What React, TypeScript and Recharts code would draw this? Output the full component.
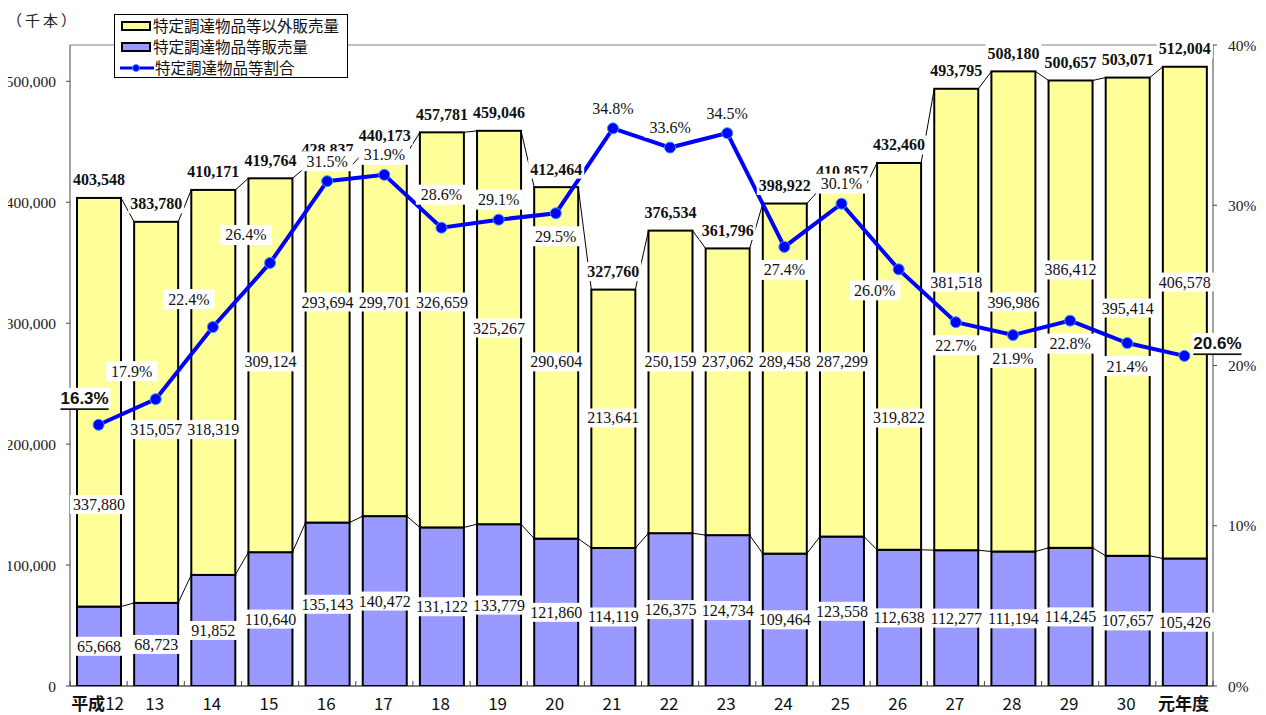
import React from 'react';
import { ComposedChart, Bar, Line, XAxis, YAxis, LabelList, ReferenceLine } from 'recharts';

// ---- data ----
const categories = ['平成12', '13', '14', '15', '16', '17', '18', '19', '20', '21', '22', '23', '24', '25', '26', '27', '28', '29', '30', '元年度'];
const designatedSales = [65668, 68723, 91852, 110640, 135143, 140472, 131122, 133779, 121860, 114119, 126375, 124734, 109464, 123558, 112638, 112277, 111194, 114245, 107657, 105426];
const otherSales = [337880, 315057, 318319, 309124, 293694, 299701, 326659, 325267, 290604, 213641, 250159, 237062, 289458, 287299, 319822, 381518, 396986, 386412, 395414, 406578];
const totals = [403548, 383780, 410171, 419764, 428837, 440173, 457781, 459046, 412464, 327760, 376534, 361796, 398922, 410857, 432460, 493795, 508180, 500657, 503071, 512004];
const ratios = [16.3, 17.9, 22.4, 26.4, 31.5, 31.9, 28.6, 29.1, 29.5, 34.8, 33.6, 34.5, 27.4, 30.1, 26.0, 22.7, 21.9, 22.8, 21.4, 20.6];
const leftTicks = [0, 100000, 200000, 300000, 400000, 500000];
const rightTicks = [0, 10, 20, 30, 40];
// level (in 千本, left-axis units) at which each "以外" label sits inside its bar
const otherLabelLevel = [150000, 212000, 212000, 268000, 317500, 317500, 317500, 296000, 268000, 221600, 268000, 268000, 268000, 268000, 221600, 334000, 317500, 344000, 312500, 334000];
// where each ratio label sits relative to its point
const pctLabelPlacement = ['leftBold', 'aboveLeft', 'aboveLeft', 'aboveLeft', 'above', 'above', 'aboveHigh', 'above', 'below', 'above', 'above', 'above', 'below', 'above', 'belowLeft', 'below', 'below', 'below', 'below', 'rightBold'];

const seriesNames = ['特定調達物品等以外販売量', '特定調達物品等販売量', '特定調達物品等割合'];
const unitLabel = '（千本）';

const data = categories.map((c, i) => ({
  name: c,
  idx: i,
  sales: designatedSales[i],
  other: otherSales[i],
  total: totals[i],
  ratio: ratios[i],
}));

// ---- layout ----
const W = 1266;
const H = 715;
const TOP = 45;
const LEFT_AXIS_W = 70;
const RIGHT_AXIS_W = 53;
const X_AXIS_H = 29;
const PLOT_W = W - LEFT_AXIS_W - RIGHT_AXIS_W;
const AXIS_Y = H - X_AXIS_H;
const N = categories.length;
const CAT_W = PLOT_W / N;

const YELLOW = '#FFFF99';
const PURPLE = '#9999FF';
const BLUE = '#0000FF';
const SERIF = '"Liberation Serif", "Times New Roman", serif';
const SANS = '"Liberation Sans", Arial, sans-serif';
const CJK = '"Noto Sans CJK JP", "Noto Sans", sans-serif';

const fmt = (v: number) => v.toLocaleString('en-US');

const textWidth = (s: string, size: number, bold = false) => {
  let w = 0;
  for (const ch of s) {
    if (ch === ',' || ch === '.') w += 0.25;
    else if (ch === '%') w += bold ? 0.89 : 0.833;
    else w += bold ? 0.556 : 0.5;
  }
  return w * size;
};

const BoxedText = ({ cx, cy, text, size = 16, bold = false, font = SERIF, padX = 3, boxH = 19, underline = false }: any) => {
  const tw = textWidth(text, size, bold && font === SANS);
  return (
    <g>
      <rect x={cx - tw / 2 - padX} y={cy - boxH / 2} width={tw + padX * 2} height={boxH} fill="#fff" />
      <text
        x={cx}
        y={cy}
        textAnchor="middle"
        dominantBaseline="central"
        fontFamily={font}
        fontSize={size}
        fontWeight={bold ? 'bold' : 'normal'}
        fill="#111"
        textDecoration={underline ? 'underline' : undefined}
      >
        {text}
      </text>
    </g>
  );
};

const SalesShape = (props: any) => {
  const { x, y, width, height, payload } = props;
  const i = payload.idx;
  const k = height / designatedSales[i];
  const base = y + height;
  return (
    <g>
      <rect x={x} y={y} width={width} height={height} fill={PURPLE} stroke="#000" strokeWidth={2} />
      {i < N - 1 && (
        <line x1={x + width} y1={y} x2={x + CAT_W} y2={base - designatedSales[i + 1] * k} stroke="#000" strokeWidth={1} />
      )}
    </g>
  );
};

const OtherShape = (props: any) => {
  const { x, y, width, height, payload } = props;
  const i = payload.idx;
  const k = height / otherSales[i];
  const zero = y + height + designatedSales[i] * k;
  return (
    <g>
      <rect x={x} y={y} width={width} height={height} fill={YELLOW} stroke="#000" strokeWidth={2} />
      {i < N - 1 && (
        <line x1={x + width} y1={y} x2={x + CAT_W} y2={zero - totals[i + 1] * k} stroke="#000" strokeWidth={1} />
      )}
    </g>
  );
};

const SalesLabel = (props: any) => {
  const { x, y, width, height, value } = props;
  const i = Number(value);
  return <BoxedText cx={Number(x) + Number(width) / 2} cy={Number(y) + Number(height) / 2} text={fmt(designatedSales[i])} />;
};

const OtherLabel = (props: any) => {
  const { x, y, width, height, value } = props;
  const i = Number(value);
  const k = Number(height) / otherSales[i];
  const zero = Number(y) + Number(height) + designatedSales[i] * k;
  const ly = zero - otherLabelLevel[i] * k;
  return <BoxedText cx={Number(x) + Number(width) / 2} cy={ly} text={fmt(otherSales[i])} />;
};

const TotalLabel = (props: any) => {
  const { x, y, width, value } = props;
  const i = Number(value);
  return <BoxedText cx={Number(x) + Number(width) / 2} cy={Number(y) - 18} text={fmt(totals[i])} bold padX={2} />;
};

const placementOffsets: Record<string, [number, number]> = {
  above: [0, -20],
  aboveHigh: [0, -33],
  below: [0, 23],
  aboveLeft: [-24, -28],
  belowLeft: [-24, 21],
  leftBold: [-14, -26],
  rightBold: [33, -12],
};

const PctLabel = (props: any) => {
  const { x, y, value } = props;
  const i = Number(value);
  const p = pctLabelPlacement[i];
  const [dx, dy] = placementOffsets[p];
  const bold = p === 'leftBold' || p === 'rightBold';
  return (
    <BoxedText
      cx={Number(x) + dx}
      cy={Number(y) + dy}
      text={`${ratios[i].toFixed(1)}%`}
      bold={bold}
      font={bold ? SANS : SERIF}
      size={bold ? 17 : 16}
      padX={bold ? 2 : 5}
      boxH={bold ? 22 : 20}
      underline={bold}
    />
  );
};

const XTick = (props: any) => {
  const { x, payload } = props;
  const label = String(payload.value);
  const i = categories.indexOf(label);
  const left = x - CAT_W / 2;
  let content: React.ReactNode;
  if (label.startsWith('平成')) {
    content = (
      <>
        <tspan fontWeight="bold">平成</tspan>
        <tspan>{label.slice(2)}</tspan>
      </>
    );
  } else if (label === '元年度') {
    content = <tspan fontWeight="bold">{label}</tspan>;
  } else {
    content = label;
  }
  return (
    <g>
      <line x1={left} x2={left} y1={AXIS_Y} y2={AXIS_Y - 5} stroke="#444" strokeWidth={1} />
      {i === N - 1 && <line x1={x + CAT_W / 2} x2={x + CAT_W / 2} y1={AXIS_Y} y2={AXIS_Y - 5} stroke="#444" strokeWidth={1} />}
      <text x={x - 1} y={AXIS_Y + 24} textAnchor="middle" fontFamily={CJK} fontSize={17} fill="#111">
        {content}
      </text>
    </g>
  );
};

const LegendBox = () => {
  const row: React.CSSProperties = { display: 'flex', alignItems: 'center', height: 21, whiteSpace: 'nowrap' };
  const swatch = (color: string): React.CSSProperties => ({
    display: 'inline-block',
    width: 26,
    height: 6,
    background: color,
    border: '2px solid #000',
    boxSizing: 'content-box',
    marginLeft: 6,
    marginRight: 2,
    flex: 'none',
  });
  return (
    <div
      style={{
        position: 'absolute',
        left: 114,
        top: 14,
        width: 234,
        height: 64,
        border: '1px solid #000',
        background: '#fff',
        boxSizing: 'border-box',
        fontFamily: CJK,
        fontSize: 15.5,
        lineHeight: '21px',
        color: '#111',
        overflow: 'hidden',
      }}
    >
      <div style={row}>
        <span style={swatch(YELLOW)} />
        <span>{seriesNames[0]}</span>
      </div>
      <div style={row}>
        <span style={swatch(PURPLE)} />
        <span>{seriesNames[1]}</span>
      </div>
      <div style={row}>
        <svg width={34} height={12} style={{ marginLeft: 5, marginRight: 1, flex: 'none' }}>
          <line x1={0} y1={6} x2={34} y2={6} stroke={BLUE} strokeWidth={3} />
          <circle cx={16} cy={6} r={3.5} fill={BLUE} stroke="#2E9BFF" strokeWidth={1} />
        </svg>
        <span>{seriesNames[2]}</span>
      </div>
    </div>
  );
};

export default function App() {
  return (
    <div style={{ position: 'relative', width: W, height: H, margin: '-8px 0 0 -8px' }}>
      <ComposedChart
        width={W}
        height={H}
        data={data}
        margin={{ top: TOP, right: 0, bottom: 0, left: 0 }}
      >
        <XAxis
          dataKey="name"
          height={X_AXIS_H}
          interval={0}
          tickLine={false}
          axisLine={{ stroke: '#000', strokeWidth: 1 }}
          tick={<XTick />}
        />
        <YAxis
          yAxisId="left"
          orientation="left"
          width={LEFT_AXIS_W}
          domain={[0, 530000]}
          ticks={leftTicks}
          tickFormatter={(v: number) => fmt(v)}
          tickSize={4}
          tickMargin={10}
          axisLine={{ stroke: '#444' }}
          tickLine={{ stroke: '#444' }}
          tick={{ fontFamily: SERIF, fontSize: 15.5, fill: '#222' }}
          allowDataOverflow
        />
        <YAxis
          yAxisId="right"
          orientation="right"
          width={RIGHT_AXIS_W}
          domain={[0, 40]}
          ticks={rightTicks}
          tickFormatter={(v: number) => `${v}%`}
          tickSize={4}
          tickMargin={11}
          axisLine={{ stroke: '#444' }}
          tickLine={{ stroke: '#444' }}
          tick={{ fontFamily: SERIF, fontSize: 15.5, fill: '#222', textAnchor: 'start' }}
          allowDataOverflow
        />
        <ReferenceLine yAxisId="left" y={530000} stroke="#808080" strokeWidth={1} />
        <Bar
          yAxisId="left"
          dataKey="sales"
          name={seriesNames[1]}
          stackId="s"
          barSize={44}
          fill={PURPLE}
          shape={<SalesShape />}
          isAnimationActive={false}
        >
          <LabelList dataKey="idx" content={<SalesLabel />} />
        </Bar>
        <Bar
          yAxisId="left"
          dataKey="other"
          name={seriesNames[0]}
          stackId="s"
          barSize={44}
          fill={YELLOW}
          shape={<OtherShape />}
          isAnimationActive={false}
        >
          <LabelList dataKey="idx" content={<OtherLabel />} />
          <LabelList dataKey="idx" content={<TotalLabel />} />
        </Bar>
        <Line
          yAxisId="right"
          dataKey="ratio"
          name={seriesNames[2]}
          stroke={BLUE}
          strokeWidth={4}
          dot={{ r: 5.5, fill: BLUE, stroke: '#2E9BFF', strokeWidth: 1 }}
          activeDot={false}
          isAnimationActive={false}
        >
          <LabelList dataKey="idx" content={<PctLabel />} />
        </Line>
      </ComposedChart>
      <div
        style={{
          position: 'absolute',
          left: 7,
          top: 11,
          fontFamily: CJK,
          fontSize: 15,
          lineHeight: '18px',
          letterSpacing: 3,
          color: '#222',
          whiteSpace: 'nowrap',
        }}
      >
        {unitLabel}
      </div>
      <LegendBox />
    </div>
  );
}
